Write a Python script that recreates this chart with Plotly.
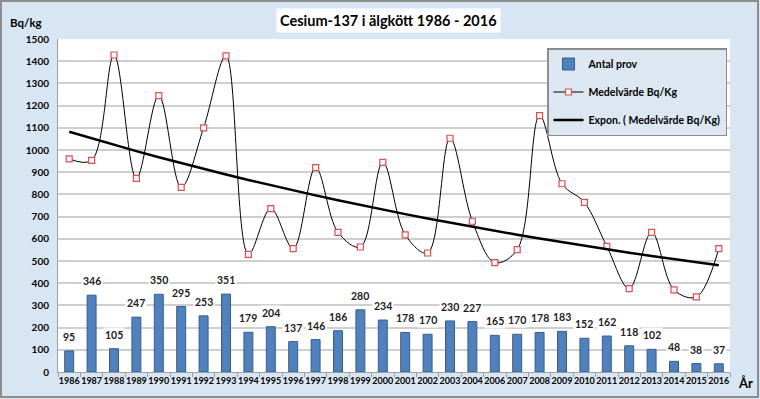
import numpy as np
import plotly.graph_objects as go

years = ["1986", "1987", "1988", "1989", "1990", "1991", "1992", "1993", "1994", "1995",
         "1996", "1997", "1998", "1999", "2000", "2001", "2002", "2003", "2004", "2006",
         "2007", "2008", "2009", "2010", "2011", "2012", "2013", "2014", "2015", "2016"]
antal_prov = [95, 346, 105, 247, 350, 295, 253, 351, 179, 204,
              137, 146, 186, 280, 234, 178, 170, 230, 227, 165,
              170, 178, 183, 152, 162, 118, 102, 48, 38, 37]
medelvarde = [960, 953, 1428, 872, 1245, 832, 1100, 1424, 530, 736,
              556, 921, 629, 563, 944, 618, 536, 1053, 679, 493,
              551, 1155, 848, 764, 566, 376, 629, 370, 338, 556]

# Exponential trendline (Excel style: fit ln(y) vs index 1..n)
idx = np.arange(1, len(medelvarde) + 1)
b, ln_a = np.polyfit(idx, np.log(medelvarde), 1)
trend = np.exp(ln_a) * np.exp(b * idx)

FONT = "Lato"
W, H = 760, 399
ML, MR, MT, MB = 58, 30, 39, 27
PW, PH = W - ML - MR, H - MT - MB

def px_x(p):
    return (p - ML) / PW

def px_y(p):
    return (H - MB - p) / PH

fig = go.Figure()

fig.add_trace(go.Bar(
    x=years, y=antal_prov, name="Antal prov",
    marker=dict(color="#4f81bd", line=dict(color="#385d8a", width=1)),
    width=0.4, legendgroup="a",
))
fig.add_trace(go.Scatter(
    x=years, y=medelvarde, name="Medelvärde Bq/Kg", mode="lines+markers",
    line=dict(color="black", width=1, shape="spline", smoothing=1.0),
    marker=dict(symbol="square", size=6, color="#f2f5fb",
                line=dict(color="#d9534f", width=1.2)),
    legendgroup="b",
))
fig.add_trace(go.Scatter(
    x=years, y=trend, name="Expon. ( Medelvärde Bq/Kg)", mode="lines",
    line=dict(color="black", width=2.5), legendgroup="c",
))

annotations = []
for i, v in enumerate(antal_prov):
    annotations.append(dict(
        x=i, y=v, xref="x", yref="y", text=str(v), showarrow=False,
        yanchor="bottom", yshift=6,
        font=dict(family=FONT, size=10.5, color="#222", weight="bold"),
        bgcolor="white", borderpad=1,
    ))
annotations.append(dict(
    x=px_x(388), y=px_y(20), xref="paper", yref="paper",
    xanchor="center", yanchor="middle",
    text="Cesium-137 i älgkött 1986 - 2016", showarrow=False,
    font=dict(family=FONT, size=14.5, color="black", weight="bold"),
    bgcolor="white", borderpad=3,
))
annotations.append(dict(
    x=px_x(8), y=px_y(23), xref="paper", yref="paper",
    xanchor="left", yanchor="middle",
    text="Bq/kg", showarrow=False,
    font=dict(family=FONT, size=11.5, color="black", weight="bold"),
))
annotations.append(dict(
    x=px_x(736), y=px_y(383), xref="paper", yref="paper",
    xanchor="left", yanchor="middle",
    text="År", showarrow=False,
    font=dict(family=FONT, size=13, color="black", weight="bold"),
))

shapes = [dict(
    type="rect", xref="paper", yref="paper",
    x0=px_x(1), x1=px_x(758), y0=px_y(397), y1=px_y(1),
    line=dict(color="#8c8c8c", width=2), fillcolor="rgba(0,0,0,0)", layer="below",
)]

fig.update_layout(
    width=W, height=H,
    margin=dict(l=ML, r=MR, t=MT, b=MB),
    paper_bgcolor="#d8e6f4",
    plot_bgcolor="white",
    showlegend=True,
    legend=dict(
        x=px_x(727), y=px_y(48), xanchor="right", yanchor="top",
        bgcolor="#dde7f2", bordercolor="#8c8c8c", borderwidth=1.5,
        font=dict(family=FONT, size=10.5, color="black", weight="bold"),
        tracegroupgap=9, itemwidth=30,
    ),
    annotations=annotations,
    shapes=shapes,
    bargap=0.5,
)
fig.update_xaxes(
    type="category", range=[-0.5, len(years) - 0.5],
    showgrid=False, showline=True, linecolor="#a0a0a0", linewidth=1,
    ticks="outside", tickson="boundaries", ticklen=4, tickcolor="#a0a0a0",
    tickfont=dict(family=FONT, size=9, color="black", weight="bold"),
    tickangle=0,
)
fig.update_yaxes(
    range=[0, 1500], dtick=100, showgrid=True, gridcolor="#cfcfcf", gridwidth=1.5,
    showline=True, linecolor="#a0a0a0", linewidth=1, zeroline=False,
    ticks="", ticklabelstandoff=6,
    tickfont=dict(family=FONT, size=10, color="black", weight="bold"),
)

fig.write_html("out.html", config={"displayModeBar": False},
               post_script="document.body.style.margin='0px';")
